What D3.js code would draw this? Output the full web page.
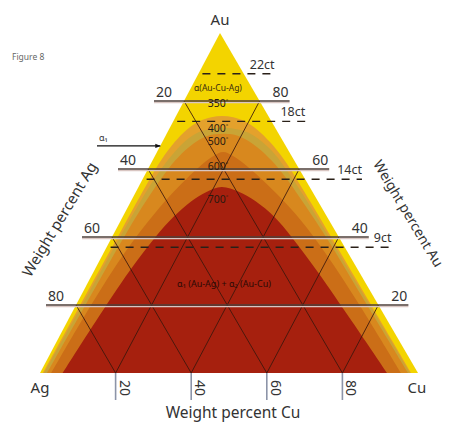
<!DOCTYPE html>
<html>
<head>
<meta charset="utf-8">
<script src="https://cdn.jsdelivr.net/npm/d3@7"></script>
<style>
  html, body { margin: 0; padding: 0; background: #ffffff; }
  svg { display: block; }
  text { font-family: "Noto Sans", "Open Sans", sans-serif; }
</style>
</head>
<body>
<svg id="chart" width="455" height="423"></svg>
<script>
// ---------------- DATA ----------------
// grid ticks (weight percent)
const auLines = [80, 60, 40, 20];          // horizontal Au isolines
const agTickLabels = ["20", "40", "60", "80"];   // left labels (Ag)
const auTickLabels = ["80", "60", "40", "20"];   // right labels (Au)
const cuTicks = [20, 40, 60, 80];          // base ticks (Cu)
const gridSteps = [20, 40, 60, 80];

// karat lines (Au weight percent as drawn)
const karatAu = [88, 74, 57, 37];
const karatLabels = ["22ct", "18ct", "14ct", "9ct"];

// temperature labels
const tempLabels = ["350", "400", "500", "600", "700"];
const tempLabelAu = [78.3, 70.8, 67.0, 59.6, 50.0];

// contour boundaries, points as [Cu %, Au %] (Ag = 100 - Cu - Au)
const contour400 = [[0.8,0],[1.1,20],[1.5,40],[1.8,55],[2.3,63],[3.3,68],[4.7,71.5],[6.8,74],[9.5,75.2],[12.2,75.6],
  [15.3,75.2],[19.0,74],[23.5,71.5],[28.4,68],[34.4,63],[42.8,55],[58.0,40],[78.1,20],[98.2,0]];
const contour450 = [[1.1,0],[1.6,20],[2.1,40],[2.6,52],[3.3,59],[4.5,64.5],[6.0,68.3],[8.2,70.8],[10.8,71.8],[13.5,72.1],
  [17.4,71.8],[21.2,70.8],[25.9,68.3],[31.3,64.5],[37.6,59],[45.1,52],[57.4,40],[77.7,20],[97.9,0]];
const contour500 = [[1.9,0],[2.5,20],[3.2,40],[3.9,50],[4.8,57],[6.0,62.5],[7.8,66.5],[10.2,69.2],[12.7,70.2],[15.0,70.4],
  [17.3,70.2],[20.6,69.2],[25.7,66.5],[31.5,62.5],[38.2,57],[45.9,50],[56.6,40],[77.0,20],[97.4,0]];
const contour600 = [[3.0,0],[4.0,20],[5.5,35],[7.5,45],[9.5,52],[11.5,57],[13.5,61],[15.5,63.8],[17.5,65],
  [20.7,63.8],[25.5,61],[31.5,57],[38.5,52],[47.5,45],[59.0,35],[75.0,20],[95.5,0]];
const contour700 = [[6.0,0],[7.5,15],[9.4,30],[11.5,40],[13.5,46],[16.0,50.5],[18.8,53.3],[22.0,54.7],
  [27.2,53.3],[33.0,50.5],[40.0,46],[47.5,40],[59.0,30],[75.5,15],[91.8,0]];

// alpha-1 solvus pointer (Au % on left edge)
const alpha1Au = 66.8;

// ---------------- LAYOUT ----------------
const svg = d3.select("#chart");
const baseY = 373, apexY = 33, leftX = 40, baseW = 378, apexShift = 180;
const auY = d3.scaleLinear().domain([0, 100]).range([baseY, apexY]);
const cuX = d3.scaleLinear().domain([0, 100]).range([0, baseW]);
const auX = d3.scaleLinear().domain([0, 100]).range([0, apexShift]);
const pt = (cu, au) => [leftX + cuX(cu) + auX(au), auY(au)];
const leftEdge = au => pt(0, au);
const rightEdge = au => pt(100 - au, au);

const colors = {
  yellow: "#f3d400",
  c400: "#e4a12c",
  c450: "#c9a436",
  c500: "#d8881e",
  c600: "#cb6e17",
  c700: "#a6200e"
};

const tri = [pt(0,0), pt(100,0), pt(0,100)];
const defs = svg.append("defs");
defs.append("clipPath").attr("id", "triClip")
  .append("path").attr("d", "M" + tri.join("L") + "Z");
defs.append("marker").attr("id", "arrow").attr("viewBox", "0 0 10 10")
  .attr("refX", 9).attr("refY", 5).attr("markerWidth", 5).attr("markerHeight", 5)
  .attr("orient", "auto")
  .append("path").attr("d", "M0,1L10,5L0,9Z").attr("fill", "#111");

// triangle background
svg.append("path").attr("d", "M" + tri.join("L") + "Z").attr("fill", colors.yellow);

const g = svg.append("g").attr("clip-path", "url(#triClip)");
const line = d3.line().curve(d3.curveCatmullRom.alpha(0.5));
[[contour400, colors.c400], [contour450, colors.c450], [contour500, colors.c500],
 [contour600, colors.c600], [contour700, colors.c700]].forEach(([c, col]) => {
  const pts = c.map(d => pt(d[0], d[1]));
  g.append("path").attr("d", line(pts) + "Z").attr("fill", col);
});

// diagonal grid lines
const grid = svg.append("g").attr("stroke", "#3a160c").attr("stroke-width", 1).attr("stroke-opacity", 0.85);
gridSteps.forEach(v => {
  grid.append("line").attr("x1", pt(v,0)[0]).attr("y1", pt(v,0)[1])
    .attr("x2", pt(v,100-v)[0]).attr("y2", pt(v,100-v)[1]);
  grid.append("line").attr("x1", pt(100-v,0)[0]).attr("y1", pt(100-v,0)[1])
    .attr("x2", pt(0,100-v)[0]).attr("y2", pt(0,100-v)[1]);
});

// horizontal Au lines with labels
const ext = 30;
auLines.forEach((v, i) => {
  const [xl, y] = leftEdge(v), [xr] = rightEdge(v);
  svg.append("line").attr("x1", xl - ext).attr("x2", xr + ext).attr("y1", y + 1.6).attr("y2", y + 1.6)
    .attr("stroke", "#d9c6c2").attr("stroke-width", 1.2);
  svg.append("line").attr("x1", xl - ext).attr("x2", xr + ext).attr("y1", y).attr("y2", y)
    .attr("stroke", "#4e3f3a").attr("stroke-width", 1.3);
  svg.append("text").attr("x", xl - ext + 2).attr("y", y - 4).attr("font-size", 14)
    .attr("fill", "#333").text(agTickLabels[i]);
  svg.append("text").attr("x", xr + ext - 1).attr("y", y - 4).attr("font-size", 14)
    .attr("text-anchor", "end").attr("fill", "#333").text(auTickLabels[i]);
});

// karat dashed lines
const karatDx = [6, 9, 32, 29];
karatAu.forEach((v, i) => {
  const [xl, y] = leftEdge(v), [xr] = rightEdge(v);
  const lx = xr + karatDx[i];
  const lbl = svg.append("text").attr("x", lx).attr("y", y - 5).attr("font-size", 12.5)
    .attr("fill", "#333").text(karatLabels[i]);
  const w = lbl.node().getComputedTextLength();
  svg.insert("line", "text").attr("x1", xl + 4).attr("x2", lx + w).attr("y1", y).attr("y2", y)
    .attr("stroke", "#2a2018").attr("stroke-width", 1.4).attr("stroke-dasharray", "8,7");
});

// base ticks for Cu
cuTicks.forEach(v => {
  const [x, y] = pt(v, 0);
  svg.append("line").attr("x1", x).attr("x2", x).attr("y1", y).attr("y2", y + 27)
    .attr("stroke", "#8c94a8").attr("stroke-width", 1.6);
  svg.append("text").attr("transform", `translate(${x + 4},${y + 15}) rotate(90)`)
    .attr("text-anchor", "middle").attr("font-size", 14).attr("fill", "#333").text(v);
});

// temperature labels
tempLabels.forEach((t, i) => {
  const y = auY(tempLabelAu[i]);
  const tx = svg.append("text").attr("x", 218).attr("y", y).attr("text-anchor", "middle")
    .attr("font-size", 10.5).attr("fill", "#2a1a10");
  tx.append("tspan").text(t);
  tx.append("tspan").attr("font-size", 6).attr("dy", -4).text("°");
});

svg.append("text").attr("x", 218).attr("y", 91).attr("text-anchor", "middle")
  .attr("font-size", 8.5).attr("fill", "#3a2a10").text("α(Au-Cu-Ag)");
svg.append("text").attr("x", 224).attr("y", 287).attr("text-anchor", "middle")
  .attr("font-size", 9).attr("fill", "#2a0a05").text("α₁ (Au-Ag) + α₂ (Au-Cu)");

// alpha-1 arrow
const [ax, ay] = leftEdge(alpha1Au);
svg.append("line").attr("x1", 97).attr("x2", ax).attr("y1", ay).attr("y2", ay)
  .attr("stroke", "#111").attr("stroke-width", 1.1).attr("marker-end", "url(#arrow)");
svg.append("text").attr("x", 99).attr("y", ay - 5).attr("font-size", 9).attr("fill", "#333").text("α₁");

// vertex labels
svg.append("text").attr("x", 220).attr("y", 25).attr("text-anchor", "middle").attr("font-size", 15).attr("fill", "#333").text("Au");
svg.append("text").attr("x", 40).attr("y", 393).attr("text-anchor", "middle").attr("font-size", 15).attr("fill", "#333").text("Ag");
svg.append("text").attr("x", 417).attr("y", 393).attr("text-anchor", "middle").attr("font-size", 15).attr("fill", "#333").text("Cu");

// axis titles
svg.append("text").attr("x", 233).attr("y", 418).attr("text-anchor", "middle").attr("font-size", 15.5).attr("fill", "#333").text("Weight percent Cu");
svg.append("text").attr("transform", "translate(64,222) rotate(-59)").attr("text-anchor", "middle").attr("font-size", 15).attr("fill", "#333").text("Weight percent Ag");
svg.append("text").attr("transform", "translate(404,216) rotate(59)").attr("text-anchor", "middle").attr("font-size", 14).attr("fill", "#333").text("Weight percent Au");

// figure caption
svg.append("text").attr("x", 12).attr("y", 60).attr("font-size", 8.5).attr("fill", "#666").text("Figure 8");
</script>
</body>
</html>
